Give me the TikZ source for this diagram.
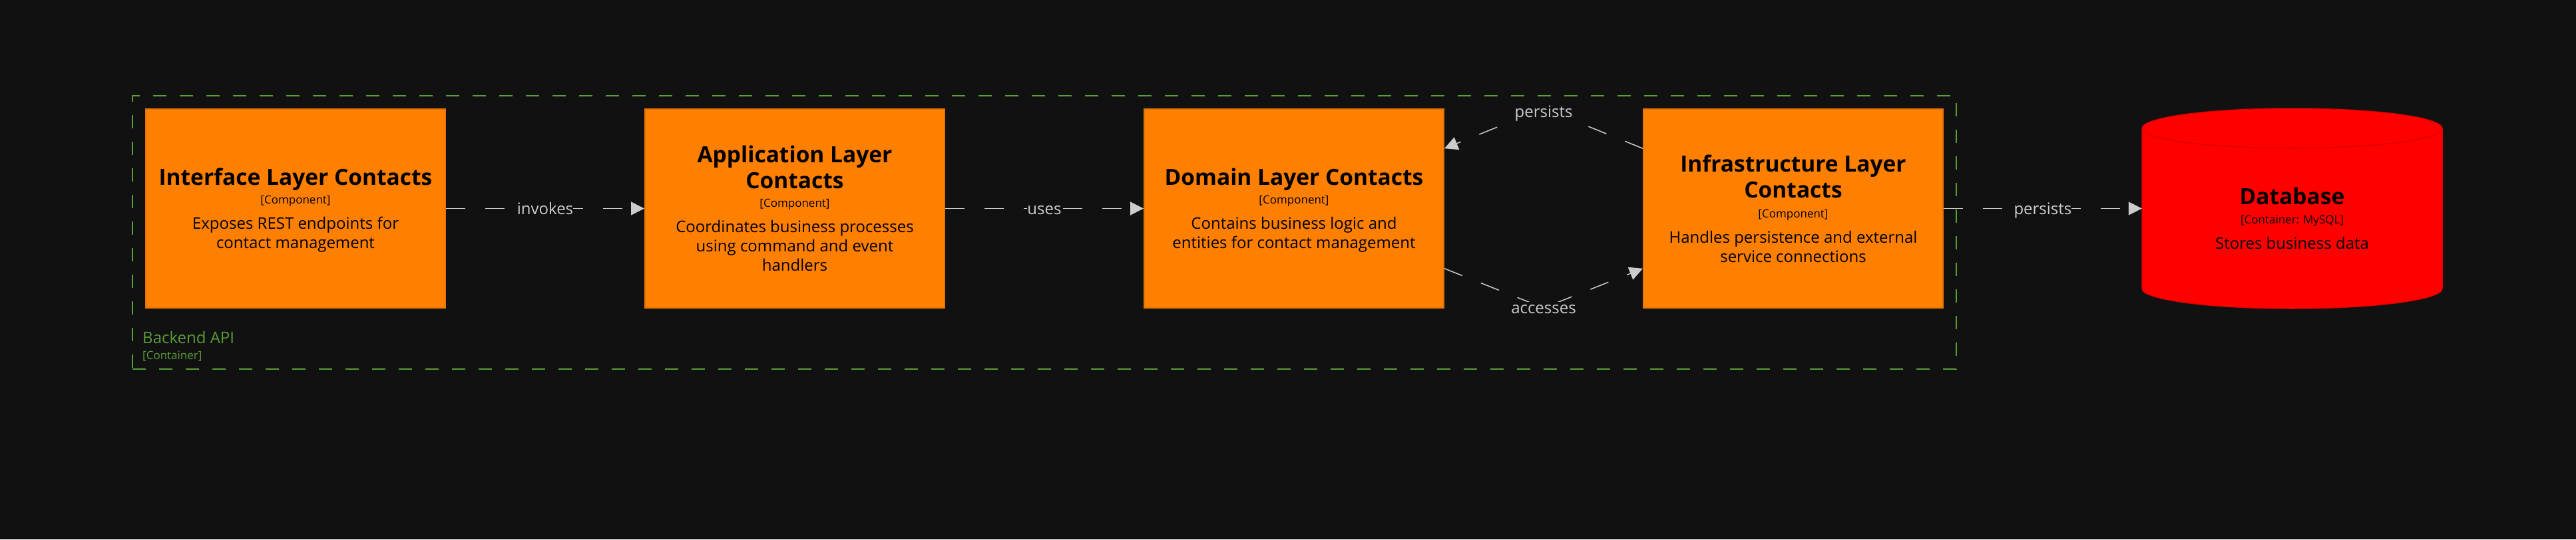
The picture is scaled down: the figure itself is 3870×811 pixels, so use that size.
\documentclass[tikz,border=0pt]{standalone}
\usepackage{fontspec}
\setmainfont{Open Sans}
\usetikzlibrary{arrows.meta,calc}
\definecolor{bg}{HTML}{111111}
\definecolor{orng}{HTML}{FF8000}
\definecolor{orngdk}{HTML}{E67300}
\definecolor{dbred}{HTML}{FF0000}
\definecolor{dbredk}{HTML}{DD0000}
\definecolor{grn}{HTML}{5A9E38}
\definecolor{relc}{HTML}{CCCCCC}
\begin{document}
\begin{tikzpicture}[x=1pt,y=-1pt,
  compbox/.style={draw=orngdk, fill=orng, line width=2pt, minimum width=450pt, minimum height=299pt, inner sep=0pt},
  ttl/.style={anchor=base, inner sep=0pt, text=black, font=\fontsize{33.5}{40}\selectfont\bfseries},
  typ/.style={anchor=base, inner sep=0pt, text=black, font=\fontsize{17}{20}\selectfont},
  dsc/.style={anchor=base, inner sep=0pt, text=black, font=\fontsize{24}{29}\selectfont},
  relarrow/.style={draw=relc, line width=1.5pt, dash pattern=on 29pt off 30pt, -{Triangle[length=20pt,width=20pt]}},
  lbl/.style={fill=bg, text=relc, anchor=base, inner xsep=0pt, inner ysep=4pt, font=\fontsize{24}{29}\selectfont},
  boundary/.style={draw=grn, line width=2pt, dash pattern=on 20pt off 20pt, inner sep=0pt}
]
\fill[bg] (0,0) rectangle (3870,811);
\useasboundingbox (0,0) rectangle (3870,811);

% container boundary
\node[boundary, minimum width=2740pt, minimum height=411pt] (api) at (1569,349.5) {};
\node[anchor=base west, inner sep=0pt, text=grn, font=\fontsize{24}{29}\selectfont] (api-t) at (214,516) {Backend API};
\node[anchor=base west, inner sep=0pt, text=grn, font=\fontsize{17}{20}\selectfont] (api-y) at (214,540) {[Container]};

% Interface
\node[compbox] (iface) at (444,313.5) {};
\node[ttl] (iface-t) at (444,278) {Interface Layer Contacts};
\node[typ] (iface-y) at (444,306.5) {[Component]};
\node[dsc] (iface-d1) at (444,344) {Exposes REST endpoints for};
\node[dsc] (iface-d2) at (444,373) {contact management};

% Application
\node[compbox] (app) at (1194,313.5) {};
\node[ttl] (app-t1) at (1194,244) {Application Layer};
\node[ttl] (app-t2) at (1194,283) {Contacts};
\node[typ] (app-y) at (1194,311.5) {[Component]};
\node[dsc] (app-d1) at (1194,349) {Coordinates business processes};
\node[dsc] (app-d2) at (1194,378) {using command and event};
\node[dsc] (app-d3) at (1194,407) {handlers};

% Domain
\node[compbox] (dom) at (1944,313.5) {};
\node[ttl] (dom-t) at (1944,278) {Domain Layer Contacts};
\node[typ] (dom-y) at (1944,306.5) {[Component]};
\node[dsc] (dom-d1) at (1944,344) {Contains business logic and};
\node[dsc] (dom-d2) at (1944,373) {entities for contact management};

% Infrastructure
\node[compbox] (infra) at (2694,313.5) {};
\node[ttl] (infra-t1) at (2694,258.5) {Infrastructure Layer};
\node[ttl] (infra-t2) at (2694,297.5) {Contacts};
\node[typ] (infra-y) at (2694,327) {[Component]};
\node[dsc] (infra-d1) at (2694,365) {Handles persistence and external};
\node[dsc] (infra-d2) at (2694,394) {service connections};

% Database
\node[minimum width=451pt, minimum height=301pt, inner sep=0pt] (db) at (3443.5,313.5) {};
\filldraw[fill=dbred, draw=dbredk, line width=1.5pt]
  (3218,193) -- (3218,434)
  arc[start angle=180, end angle=360, x radius=225.5pt, y radius=30pt]
  -- (3669,193)
  arc[start angle=0, end angle=180, x radius=225.5pt, y radius=30pt] -- cycle;
\draw[dbredk, line width=1.5pt] (3669,193) arc[start angle=0, end angle=-180, x radius=225.5pt, y radius=30pt];
\node[ttl] (db-t) at (3443.5,307.5) {Database};
\node[typ] (db-y) at (3443.5,336) {[Container: MySQL]};
\node[dsc] (db-d) at (3443.5,374) {Stores business data};

% relations
\draw[relarrow] (iface.east) -- node[lbl, yshift=-9pt] (l-inv) {invokes} (app.west);
\draw[relarrow] (app.east) -- node[lbl, yshift=-9pt] (l-uses) {uses} (dom.west);
\draw[relarrow] (infra.east) -- node[lbl, yshift=-9pt] (l-pers2) {persists} (db.west);

\coordinate (pa) at (2319,163);
\coordinate (pb) at (2319,463);
\draw[relarrow] ($(infra.north west)!0.2!(infra.south west)$) -- (pa) -- ($(dom.north east)!0.2!(dom.south east)$);
\node[lbl] (l-pers1) at (2319,176) {persists};
\draw[relarrow] ($(dom.north east)!0.8!(dom.south east)$) -- (pb) -- ($(infra.north west)!0.8!(infra.south west)$);
\node[lbl] (l-acc) at (2319,471) {accesses};
\end{tikzpicture}
\end{document}
